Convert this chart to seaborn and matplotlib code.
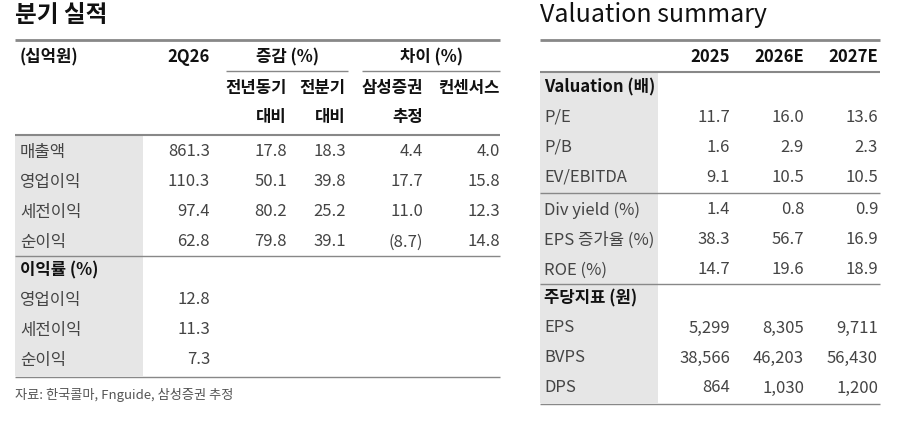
import matplotlib
matplotlib.use("Agg")
import matplotlib.pyplot as plt
import seaborn as sns

sns.set_theme(style="white")
plt.rcParams["font.family"] = ["Noto Sans CJK KR", "DejaVu Sans"]

# 분기 실적
q_rows = ["매출액", "영업이익", "세전이익", "순이익"]
q_2q26 = ["861.3", "110.3", "97.4", "62.8"]
q_yoy = ["17.8", "50.1", "80.2", "79.8"]
q_qoq = ["18.3", "39.8", "25.2", "39.1"]
q_ss = ["4.4", "17.7", "11.0", "(8.7)"]
q_cons = ["4.0", "15.8", "12.3", "14.8"]
m_rows = ["영업이익", "세전이익", "순이익"]
m_vals = ["12.8", "11.3", "7.3"]

# Valuation summary
v_years = ["2025", "2026E", "2027E"]
v_rows1 = ["P/E", "P/B", "EV/EBITDA"]
v_vals1 = [["11.7", "16.0", "13.6"], ["1.6", "2.9", "2.3"], ["9.1", "10.5", "10.5"]]
v_rows2 = ["Div yield (%)", "EPS 증가율 (%)", "ROE (%)"]
v_vals2 = [["1.4", "0.8", "0.9"], ["38.3", "56.7", "16.9"], ["14.7", "19.6", "18.9"]]
v_rows3 = ["EPS", "BVPS", "DPS"]
v_vals3 = [["5,299", "8,305", "9,711"], ["38,566", "46,203", "56,430"], ["864", "1,030", "1,200"]]

W, H = 922, 430
fig = plt.figure(figsize=(W / 100, H / 100), dpi=100)
ax = fig.add_axes([0, 0, 1, 1])
ax.set_xlim(0, W)
ax.set_ylim(H, 0)
ax.axis("off")

GRAY = "#e6e6e6"
TXT = "#444444"
DARK = "#111111"
fs = 12


def hline(x0, x1, y, lw=1.0, c="#888888"):
    ax.plot([x0, x1], [y, y], color=c, lw=lw, solid_capstyle="butt")


def t(x, y, s, ha="left", c=TXT, bold=False, size=fs):
    ax.text(x, y, s, ha=ha, va="center", color=c, fontsize=size,
            fontweight="bold" if bold else "normal")


# ---- left table ----
t(15, 15, "분기 실적", c=DARK, size=17, bold=True)
ax.add_patch(plt.Rectangle((15, 136), 128, 240, color=GRAY, lw=0))
hline(15, 500, 40, 2.0)
t(20, 57, "(십억원)", c=DARK, bold=True)
cols = [210, 287, 346, 423, 500]
t(cols[0], 57, "2Q26", ha="right", c=DARK, bold=True)
t(287, 57, "증감 (%)", ha="center", c=DARK, bold=True)
t(431, 57, "차이 (%)", ha="center", c=DARK, bold=True)
hline(226, 348, 71)
hline(362, 500, 71)
for x, a, b in zip(cols[1:], ["전년동기", "전분기", "삼성증권", "컨센서스"],
                   ["대비", "대비", "추정", ""]):
    t(x, 88, a, ha="right", c=DARK, bold=True)
    if b:
        t(x, 117, b, ha="right", c=DARK, bold=True)
hline(15, 500, 135, 1.5)
for i, name in enumerate(q_rows):
    y = 152 + i * 30
    t(20, y, name)
    for x, v in zip(cols, [q_2q26[i], q_yoy[i], q_qoq[i], q_ss[i], q_cons[i]]):
        t(x, y, v, ha="right")
hline(15, 500, 256)
t(20, 270, "이익률 (%)", c=DARK, bold=True)
for i, name in enumerate(m_rows):
    y = 300 + i * 30
    t(20, y, name)
    t(cols[0], y, m_vals[i], ha="right")
hline(15, 500, 377)
t(15, 395, "자료: 한국콜마, Fnguide, 삼성증권 추정", size=9.5, c="#555555")

# ---- right table ----
t(540, 15, "Valuation summary", c=DARK, size=18)
ax.add_patch(plt.Rectangle((540, 73), 118, 330, color=GRAY, lw=0))
hline(540, 880, 40, 2.0)
vcols = [730, 804, 878]
for x, yr in zip(vcols, v_years):
    t(x, 57, yr, ha="right", c=DARK, bold=True)
hline(540, 880, 72, 1.5)
t(544, 87, "Valuation (배)", c=DARK, bold=True)
for i, name in enumerate(v_rows1):
    y = 117 + i * 30
    t(544, y, name)
    for x, v in zip(vcols, v_vals1[i]):
        t(x, y, v, ha="right")
hline(540, 880, 193)
for i, name in enumerate(v_rows2):
    y = 210 + i * 30
    t(544, y, name)
    for x, v in zip(vcols, v_vals2[i]):
        t(x, y, v, ha="right")
hline(540, 880, 284)
t(544, 298, "주당지표 (원)", c=DARK, bold=True)
for i, name in enumerate(v_rows3):
    y = 328 + i * 30
    t(544, y, name)
    for x, v in zip(vcols, v_vals3[i]):
        t(x, y, v, ha="right")
hline(540, 880, 404)

fig.savefig("out.png", dpi=100)
